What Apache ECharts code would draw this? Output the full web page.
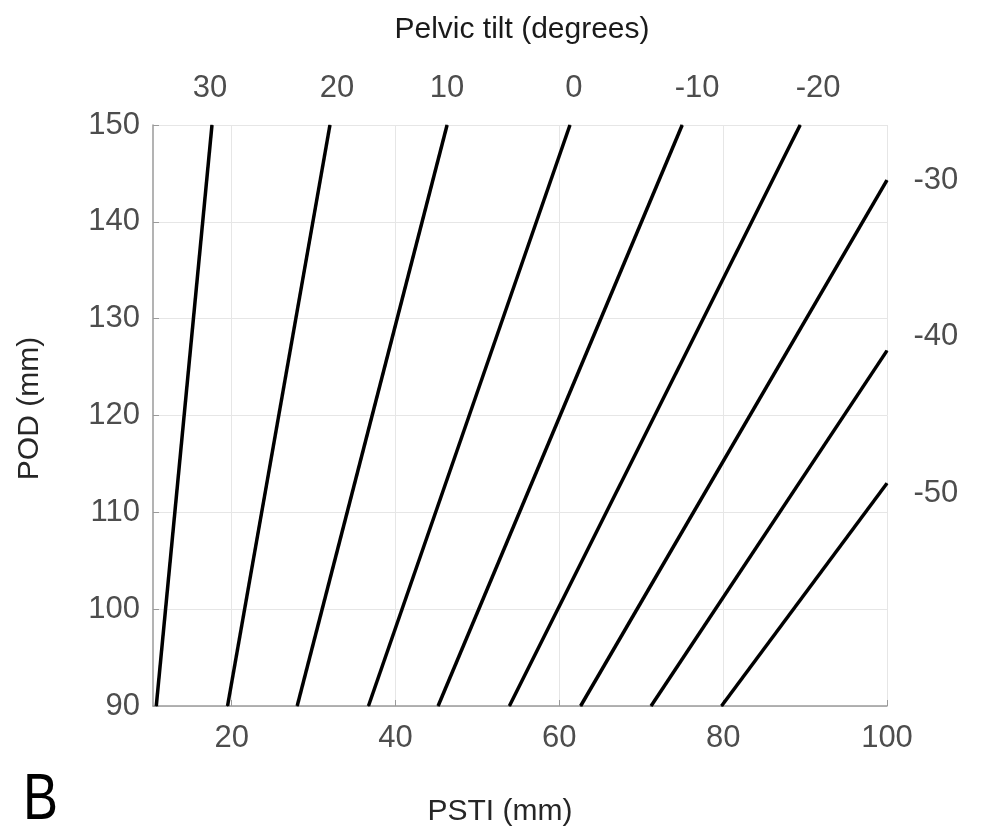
<!DOCTYPE html>
<html>
<head>
<meta charset="utf-8">
<title>Pelvic tilt</title>
<script src="https://cdn.jsdelivr.net/npm/echarts@6/dist/echarts.min.js"></script>
<style>
  html, body { margin: 0; padding: 0; background: #fff; }
  #chart { width: 981px; height: 833px; }
</style>
</head>
<body>
<div id="chart"></div>
<script>
// one iso-tilt line per pelvic tilt value, from the bottom of the plot to where it leaves it
var tilts = [30, 20, 10, 0, -10, -20, -30, -40, -50];
var pstiStart = [10.8, 19.5, 28.0, 36.7, 45.2, 53.9, 62.6, 71.2, 79.8];
var podStart = [90, 90, 90, 90, 90, 90, 90, 90, 90];
var pstiEnd = [17.6, 32.0, 46.3, 61.3, 75.0, 89.4, 100, 100, 100];
var podEnd = [150, 150, 150, 150, 150, 150, 144.3, 126.7, 113.0];

var xTicks = [20, 40, 60, 80, 100];
var yTicks = [90, 100, 110, 120, 130, 140, 150];

var font = 'Liberation Sans, Arial, Helvetica, sans-serif';
var tickGray = '#4d4d4d';
var axisGray = '#9a9a9a';

// small nudges so the tilt labels sit where the figure puts them
var nudge = { '30': [-2, 0], '20': [7, 0], '10': [0, 0], '0': [4, 0], '-10': [15, 0],
              '-20': [18, 0], '-30': [0, 0], '-40': [0, -14], '-50': [0, 10] };

var series = [];
for (var i = 0; i < tilts.length; i++) {
  var atTop = podEnd[i] >= 150;
  series.push({
    type: 'line',
    name: String(tilts[i]),
    showSymbol: true,
    symbol: 'circle',
    symbolSize: 1,
    itemStyle: { color: '#000' },
    lineStyle: { color: '#000', width: 3.5 },
    silent: true,
    data: [
      [pstiStart[i], podStart[i]],
      {
        value: [pstiEnd[i], podEnd[i]],
        label: {
          show: true,
          position: atTop ? 'top' : 'right',
          distance: atTop ? 21 : 26,
          offset: nudge[String(tilts[i])],
          formatter: String(tilts[i]),
          fontSize: 31,
          fontFamily: font,
          color: tickGray
        }
      }
    ]
  });
}

var chart = echarts.init(document.getElementById('chart'));
chart.setOption({
  animation: false,
  backgroundColor: '#fff',
  grid: { left: 153, right: 94, top: 125, bottom: 127, containLabel: false, outerBoundsMode: 'none' },
  xAxis: {
    type: 'value',
    min: 10.4,
    max: 100,
    name: 'PSTI (mm)',
    nameLocation: 'middle',
    nameGap: 91,
    nameTextStyle: { fontSize: 30, color: '#262626', fontFamily: font, padding: [0, 40, 0, 0] },
    axisLine: { show: true, onZero: false, lineStyle: { color: axisGray, width: 1.5 } },
    axisTick: { show: true, inside: true, length: 6, customValues: xTicks, lineStyle: { color: axisGray } },
    axisLabel: { customValues: xTicks, fontSize: 31, color: tickGray, margin: 17, fontFamily: font },
    splitLine: { show: true, lineStyle: { color: '#e6e6e6', width: 1 } }
  },
  yAxis: {
    type: 'value',
    min: 90,
    max: 150,
    interval: 10,
    name: 'POD (mm)',
    nameLocation: 'middle',
    nameGap: 108,
    nameTextStyle: { fontSize: 30, color: '#262626', fontFamily: font, padding: [0, 0, 0, 14] },
    axisLine: { show: true, onZero: false, lineStyle: { color: axisGray, width: 1.5 } },
    axisTick: { show: true, inside: true, length: 6, lineStyle: { color: axisGray } },
    axisLabel: { fontSize: 31, color: tickGray, margin: 13, fontFamily: font,
                 customValues: yTicks },
    splitLine: { show: true, lineStyle: { color: '#e6e6e6', width: 1 } }
  },
  graphic: [
    {
      type: 'text', x: 522, y: 30,
      style: { text: 'Pelvic tilt (degrees)', fontSize: 30, fontFamily: font, fill: '#1a1a1a',
               align: 'center', verticalAlign: 'middle' }
    },
    {
      type: 'text', x: 23, y: 801, scaleX: 0.82,
      style: { text: 'B', fontSize: 64, fontFamily: font, fill: '#000',
               align: 'left', verticalAlign: 'middle' }
    }
  ],
  series: series
});
</script>
</body>
</html>
